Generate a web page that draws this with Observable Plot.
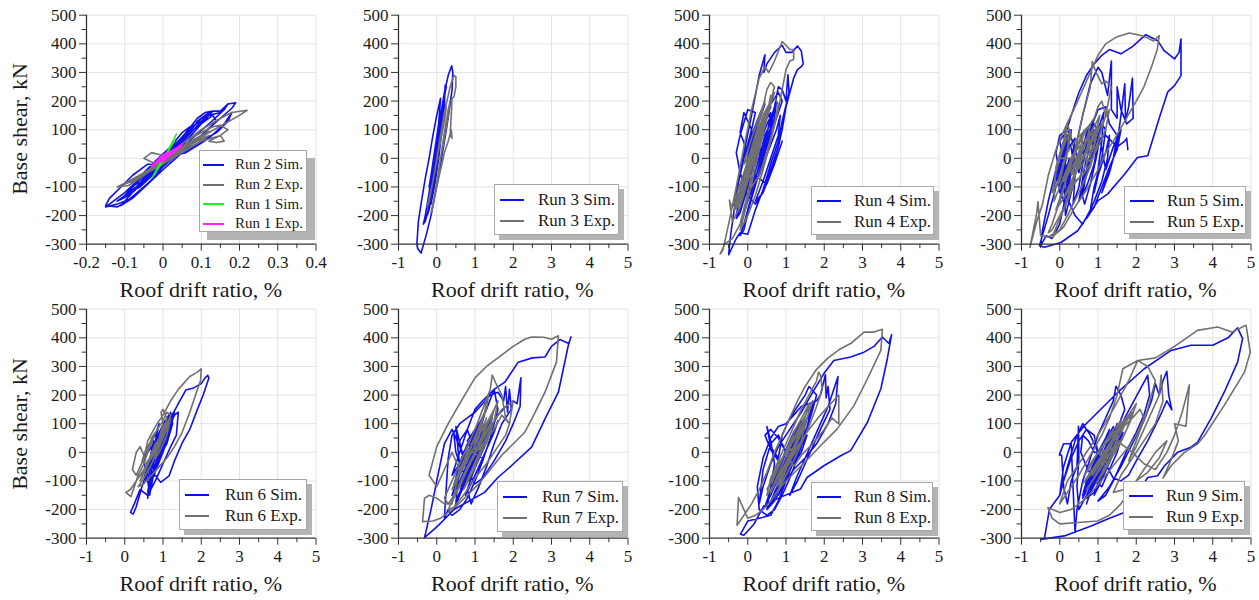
<!DOCTYPE html>
<html><head><meta charset="utf-8">
<script src="https://cdn.jsdelivr.net/npm/d3@7"></script>
<script src="https://cdn.jsdelivr.net/npm/@observablehq/plot@0.6"></script>
<style>
body{margin:0;background:#fff;}
#wrap{position:relative;width:1259px;height:600px;overflow:hidden;color:#1a1a1a;}
.panel{position:absolute;width:330px;height:300px;}
.panel svg{overflow:visible;background:transparent;max-width:none;}
.xtitle{position:absolute;width:260px;text-align:center;font-size:22px;line-height:22px;white-space:nowrap;}
.ytitle{position:absolute;width:200px;text-align:center;font-size:22px;line-height:22px;white-space:nowrap;transform:rotate(-90deg);}
.legend{position:absolute;background:#fff;border:1px solid #a8a8a8;box-sizing:border-box;}
.legrow{display:flex;align-items:center;white-space:nowrap;color:#1a1a1a;}
.sample{height:2px;flex:none;}
</style>
</head><body>
<div id="wrap"></div>
<script>
// ---- data: [drift %, base shear kN] pairs ----
const run2Sim = [0,0,0.02,25,0.04,50,0.02,30,-0.02,-20,-0.05,-60,-0.03,-50,0.01,0,0.05,60,0.08,100,0.1,130,0.08,115,0.04,60,0,5,-0.04,-50,-0.08,-100,-0.1,-130,-0.08,-120,-0.04,-70,0,-20,0.04,40,0.08,100,0.11,145,0.13,165,0.15,165,0.17,190,0.19,194,0.18,175,0.15,140,0.1,80,0.05,20,0,-40,-0.05,-100,-0.09,-145,-0.12,-160,-0.15,-170,-0.14,-160,-0.1,-120,-0.06,-70,-0.02,-20,0.02,30,0.06,90,0.09,140,0.11,160,0.13,165,0.12,150,0.08,100,0.03,40,-0.02,-30,-0.06,-90,-0.1,-150,-0.11,-165,-0.08,-140,-0.04,-90,0,-30,0.04,30,0.08,90,0.12,150,0.15,160,0.17,190,0.16,170,0.12,120,0.06,50,0,-20,-0.05,-80,-0.09,-130,-0.12,-150,-0.1,-130,-0.05,-60,0,0,0.02,40,0.05,70,0.07,110,0.05,90,0.02,40,-0.02,-10,-0.05,-50,-0.07,-90,-0.05,-80,-0.02,-40,0.01,10,0.04,50,0.07,90,0.09,130,0.12,160,0.1,140,0.06,80,0.02,20,-0.03,-40,-0.07,-100,-0.09,-120,-0.06,-100,-0.02,-50,0.03,10,0.06,60,0.1,120,0.13,150,0.14,130,0.1,80,0.05,30,0,-30,-0.04,-20,-0.08,-60,-0.11,-100,-0.14,-140,-0.15,-165,-0.12,-170,-0.08,-140,-0.04,-90,0,-40,0.04,10,0.1,60,0.14,90,0.17,130,0.18,160,0.16,120,0.12,70,0.06,20,0,0];
const run2Exp = [0,0,0.03,30,0.06,60,0.1,90,0.13,110,0.15,115,0.17,100,0.15,80,0.12,60,0.14,55,0.16,60,0.15,80,0.1,60,0.05,20,0,-20,-0.05,-50,-0.09,-80,-0.12,-100,-0.09,-95,-0.05,-60,-0.02,-20,-0.05,0,-0.03,20,0,10,0.04,40,0.1,100,0.15,140,0.18,160,0.22,168,0.2,150,0.16,120,0.12,90,0.06,40,0,-10,-0.05,-50,-0.08,-80,-0.06,-70,-0.02,-30,0.02,10,0.06,50,0.1,80,0.12,95,0.09,70,0.04,30,0,0,0.03,20,0.07,50,0.11,80,0.08,60,0.04,20,0,-20,-0.04,-50,-0.07,-70,-0.04,-50,0,-10,0.05,30,0.09,60,0.12,80,0.1,60,0.06,30,0.02,0,-0.02,-30,-0.06,-60,-0.1,-90,-0.07,-75,-0.03,-40,0,0];
const run1Sim = [0,0,0.01,20,0.02,45,0.03,70,0.035,85,0.03,70,0.02,40,0.01,15,0,-10,-0.01,-30,-0.02,-50,-0.03,-70,-0.025,-60,-0.015,-35,-0.005,-10,0.005,10,0.02,40,0.03,60,0.025,50,0.01,20,0,0];
const run1Exp = [0,0,0.01,10,0.02,20,0.03,30,0.04,40,0.05,50,0.045,40,0.035,30,0.02,15,0.01,10,0,-5,-0.01,-10,-0.02,-20,-0.03,-30,-0.025,-20,-0.015,-10,0,5,0.01,15,0.025,25,0.04,35,0.03,22,0.015,8,0,-10,-0.02,-15,-0.01,0,0,10,0.01,20,0,0];
const run3Sim = [0,0,0.05,40,0.1,90,0.05,60,-0.05,-20,-0.1,-70,-0.05,-50,0.05,30,0.12,100,0.18,170,0.2,210,0.15,170,0.05,80,-0.05,-20,-0.15,-110,-0.2,-160,-0.25,-200,-0.2,-180,-0.1,-100,0,-10,0.1,90,0.2,190,0.22,255,0.25,250,0.22,230,0.1,120,0,20,-0.1,-80,-0.2,-170,-0.3,-220,-0.35,-230,-0.3,-200,-0.2,-120,-0.1,-20,0,60,0.1,150,0.2,230,0.3,290,0.39,323,0.42,300,0.4,240,0.33,170,0.25,100,0.15,20,0.05,-60,-0.05,-130,-0.15,-200,-0.28,-270,-0.41,-331,-0.5,-315,-0.52,-300,-0.48,-220,-0.4,-150,-0.3,-70,-0.2,0,-0.1,80,0,150,0.1,210,0.05,120,-0.05,30,-0.15,-60,-0.2,-100,-0.1,-60,0,10,0.1,90,0,0,-0.1,-40,0,40,0.1,120,0.15,180,0.1,140,0,50,-0.1,-50,-0.2,-140,-0.25,-170,-0.15,-120,-0.05,-30,0.05,60,0.15,150,0.2,200,0.22,180,0.12,80,0.02,-20,-0.08,-110,-0.15,-160,-0.05,-90,0.05,0,0.1,60,0,0];
const run3Exp = [0,0,0.1,60,0.2,130,0.25,180,0.2,150,0.1,70,0,-10,-0.1,-80,-0.2,-140,-0.25,-170,-0.2,-150,-0.1,-80,0,0,0.1,80,0.2,160,0.3,220,0.35,250,0.4,270,0.45,290,0.5,285,0.5,250,0.45,215,0.4,210,0.38,150,0.35,80,0.4,70,0.38,100,0.3,60,0.2,20,0.1,-40,0,-100,-0.1,-160,-0.15,-190,-0.1,-170,0,-90,0.1,0,0.2,90,0.3,170,0.35,200,0.3,150,0.2,70,0.1,0,0,0];
const run4Sim = [0,0,0.2,60,0.4,140,0.3,100,0.1,20,-0.1,-60,-0.2,-110,-0.1,-90,0.1,0,0.3,80,0.5,150,0.6,180,0.5,150,0.3,70,0.1,-20,-0.1,-110,-0.2,-170,-0.3,-210,-0.2,-190,0,-100,0.2,10,0.4,110,0.6,190,0.8,230,0.9,200,0.7,120,0.5,40,0.3,-50,0.1,-140,0,-190,-0.1,-250,-0.2,-270,-0.1,-230,0.1,-130,0.3,-20,0.5,90,0.7,180,0.8,250,0.9,240,1.0,200,1.05,292,1.08,230,0.9,130,0.8,60,0.6,-20,0.4,-110,0.2,-180,0,-265,-0.2,-260,-0.3,-280,-0.5,-337,-0.45,-270,-0.3,-130,-0.1,20,0.1,150,0.3,290,0.45,362,0.42,300,0.5,330,0.7,370,0.9,395,1.0,370,1.15,370,1.3,392,1.4,375,1.45,330,1.4,320,1.3,310,1.2,280,1.1,230,1.0,180,0.9,100,0.8,40,0.6,-40,0.4,-120,0.2,-160,0,-130,-0.2,-50,-0.3,20,-0.2,80,0,170,0.2,160,0.1,100,-0.1,0,-0.3,-120,-0.2,-150,0,-60,0.2,50,0.4,120,0.6,160,0.5,80,0.3,0,0.1,-80,0,-20,0.1,30,0,0,0.2,40,0.4,100,0.5,160,0.35,120,0.15,30,-0.05,-60,-0.2,-140,-0.1,-120,0.1,-40,0.3,40,0.5,120,0.7,170,0.6,110,0.4,20,0.2,-70,0,-150,-0.1,-190,0.05,-120,0.25,-20,0.45,80,0.65,140,0.75,200,0.7,140,0.5,60,0.3,-30,0.1,-100,0.3,-60,0.55,30,0.75,100,0.85,150,0.8,80,0.6,0,0.4,-80,0.2,-150,0.4,-120,0.6,-50,0.8,20,0.9,60,0.7,-20,0.5,-90,0.2,-60,0,20,-0.2,90,-0.1,160,0.1,100,0,0,0.1,60,0.3,130,0.45,190,0.3,150,0.1,80,-0.1,0,-0.25,-80,-0.35,-160,-0.25,-140,-0.1,-60,0.05,20,0.2,90,0.35,160,0.25,100,0.05,10,-0.15,-90,-0.3,-200,-0.15,-160,0.05,-70,0.25,10,0.45,60,0.6,100,0.45,30,0.25,-50,0.05,-130,0,0];
const run4Exp = [0,0,0.2,50,0.4,120,0.3,90,0.1,10,-0.1,-80,-0.3,-150,-0.2,-130,0,-40,0.2,60,0.4,150,0.6,200,0.7,230,0.6,190,0.4,110,0.2,20,0,-80,-0.2,-170,-0.4,-220,-0.48,-146,-0.45,-160,-0.3,-170,-0.2,-140,0,-40,0.2,80,0.4,180,0.5,240,0.6,265,0.7,250,0.6,200,0.4,100,0.2,0,0,-120,-0.2,-230,-0.4,-280,-0.6,-300,-0.72,-334,-0.65,-320,-0.5,-230,-0.3,-100,-0.1,40,0.1,170,0.3,280,0.45,320,0.55,300,0.7,340,0.9,408,1.0,395,1.1,380,1.2,380,1.2,345,1.1,340,1.0,310,0.9,240,0.8,170,0.6,60,0.4,-40,0.2,-130,0,-200,-0.2,-250,-0.1,-200,0.1,-90,0.3,30,0.5,140,0.65,220,0.8,190,0.7,120,0.5,20,0.3,-60,0.1,-100,0,0,0.15,40,0.35,110,0.5,170,0.4,120,0.2,40,0,-40,-0.2,-120,-0.35,-180,-0.25,-170,-0.05,-90,0.15,0,0.35,90,0.55,180,0.6,220,0.5,150,0.3,60,0.1,-30,-0.1,-110,-0.2,-150,0,-60,0.2,30,0.4,100,0.3,60,0.1,0,0,0,-0.1,-20,0.1,70,0.3,150,0.45,200,0.35,150,0.15,60,-0.05,-30,-0.25,-110,-0.4,-170,-0.3,-150,-0.1,-70,0.1,20,0.3,110,0.2,60,0,-20,0,0];
const run5Sim = [0,0,0.2,60,0.3,90,0.1,20,-0.1,-60,-0.15,-100,0,-40,0.2,50,0.1,80,0,60,0.2,-80,0.1,-150,0.3,-20,0.4,70,0.2,30,0.1,-60,0.15,-200,0.3,-120,0.5,0,0.7,80,0.9,120,1.0,100,0.8,0,0.6,-80,0.5,-150,0.7,-60,0.9,30,1.1,120,1.2,100,1.1,0,0.9,-100,0.8,-180,0.6,-230,0.4,-200,0.2,-140,0,-60,-0.1,20,0,80,0.2,100,0.4,40,0.5,-50,0.6,0,0.8,100,1.0,170,1.2,180,1.3,120,1.5,80,1.4,0,1.2,-80,1.1,-120,1.3,-50,1.5,50,1.6,150,1.7,260,1.72,130,1.8,180,1.9,280,1.92,140,1.75,120,1.6,170,1.5,250,1.5,140,1.35,170,1.35,340,1.25,220,1.1,300,1.0,318,0.8,260,0.6,150,0.4,30,0.2,-100,0,-230,-0.2,-280,-0.35,-270,-0.5,-305,-0.45,-250,-0.3,-150,-0.1,-40,0.1,60,0.3,150,0.5,230,0.7,290,0.9,330,1.1,360,1.3,380,1.6,365,1.9,390,2.25,432,2.56,411,2.73,376,3.0,347,3.12,370,3.17,417,3.17,289,3.0,254,2.82,231,2.6,140,2.3,9,2.03,3,1.7,-55,1.25,-125,1.0,-148,0.47,-253,0.03,-294,-0.4,-311,-0.53,-305,-0.3,-200,-0.1,-100,0.2,-20,0.3,-20,0.1,-100,0,-150,0.1,-60,0.2,40,0.3,100,0.2,80,0.05,-20,-0.05,-80,0.05,0,0.15,60,0.3,40,0.4,-60,0.35,-160,0.5,-100,0.6,-20,0.75,60,0.9,100,1.0,60,0.9,-20,0.75,-80,0.6,-130,0.7,-40,0.85,40,1.0,100,1.15,160,1.1,60,1.0,-40,0.9,-120,1.0,-60,1.2,20,1.3,80,1.25,0,1.1,-80,0.9,-150,0.7,-210,0.9,-170,1.1,-100,1.3,-30,1.5,30,1.6,100,1.4,40,1.2,-40,1.05,70,0.95,0,0.8,-90,0.65,-160,0.55,-110,0.65,-30,0.8,50,0.85,130,0.7,90,0.6,30,0.45,-40,0.35,20,0.25,-90,0.15,-170,0.05,-130,0.2,-60,0.25,0,0.1,-80,0,-120,-0.05,-60,0.05,10,0.15,90,0.2,60,0.1,-30,0,-100,0.3,-40,0.6,20,0.9,60,1.2,80,1.5,40,1.7,60,1.75,70,1.78,30];
const run5Exp = [0,0,0.1,60,0.2,100,0.1,50,-0.1,-50,-0.2,-120,0,-80,0.2,30,0.3,80,0.2,120,0.1,60,-0.1,-30,-0.15,-150,0,-100,0.3,0,0.5,50,0.7,100,0.9,140,1.0,180,1.1,200,1.2,150,1.0,60,0.8,-20,0.6,-60,0.4,-80,0.2,-150,0,-200,-0.2,-250,-0.3,-260,-0.2,-230,0,-150,0.2,-60,0.4,30,0.6,150,0.8,250,0.85,338,0.95,300,1.1,260,1.2,270,1.35,250,1.2,150,1.0,60,0.8,-30,0.5,-120,0.2,-200,0,-250,-0.3,-275,-0.5,-270,-0.57,-151,-0.6,-190,-0.78,-311,-0.6,-220,-0.45,-160,-0.3,-60,-0.1,30,0.15,110,0.4,180,0.6,240,0.8,300,1.0,360,1.2,400,1.5,425,1.82,438,2.1,430,2.3,420,2.45,410,2.6,429,2.55,380,2.4,320,2.2,250,2.0,200,1.7,130,1.4,60,1.2,20,1.0,-40,0.7,-110,0.4,-170,0.1,-240,-0.2,-275,0.1,-180,0.4,-60,0.6,0,0.8,60,1.0,120,0.9,50,0.6,-20,0.4,-50,0.6,30,0.8,90,0.7,30,0.5,-30,0.3,-60,0.5,0,0,0,0.1,40,0.25,90,0.2,30,0,-60,-0.1,-100,0.05,-40,0.2,20,0.4,60,0.6,90,0.8,120,0.7,60,0.5,0,0.3,-60,0.4,-20,0.6,40,0.8,80,1.0,110,0.9,40,0.7,-20,0.5,-70,0.3,-100,0.1,-140,0.3,-80,0.5,-20,0.7,30,0.9,80,1.1,120,1.3,170,1.2,100,1.0,40,0.8,-10,0.6,0,0.45,-40,0.3,-90,0.15,-130,0,-160,-0.1,-180,0.05,-120,0.2,-60,0.35,0,0.5,60,0.65,100,0.55,40,0.4,-10,0.25,-50,0.1,-80,0.25,-30,0.45,30,0.7,70,0.9,110,1.05,150,0.95,90,0.75,30,0.6,0];
const run6Sim = [0.6,0,0.8,40,1.0,80,1.1,120,1.0,60,0.8,0,0.6,-60,0.55,-100,0.65,-30,0.75,40,0.7,-80,0.6,-140,0.7,-60,0.9,20,1.1,90,1.2,140,1.25,100,1.1,30,0.9,-20,0.7,-60,0.6,-160,0.65,-120,0.8,-40,1.0,40,1.2,100,1.3,130,1.4,140,1.35,60,1.2,20,1.0,-40,0.8,-100,0.6,-150,0.4,-130,0.25,-180,0.15,-210,0.22,-216,0.3,-190,0.45,-120,0.6,-60,0.8,0,1.0,60,1.2,120,1.4,170,1.6,218,1.8,225,2.0,240,2.1,260,2.17,269,2.2,260,2.05,200,1.9,150,1.7,80,1.51,35,1.3,-30,1.16,-82,0.94,-105,0.8,-80,0.68,-93,0.6,-80,0.5,-40,0.6,20,0.8,60,0.9,100,0.8,40,0.7,0,0.7,20,0.9,60,1.05,110,0.9,70,0.75,10,0.6,-50,0.5,-90,0.65,-40,0.8,20,1.0,80,1.15,130,1.0,90,0.85,30,0.7,-30,0.6,-100,0.65,-150,0.75,-80,0.9,-10,1.05,50,1.2,110,1.3,140,1.15,60,1.0,0,0.85,-50,0.7,-100,0.85,-40,1.0,20,1.1,60,1.2,90,1.1,40,0.9,-20,0.7,0];
const run6Exp = [0.7,0,0.9,50,1.0,100,0.95,140,1.0,150,1.1,120,1.0,60,0.8,0,0.6,-40,0.5,-60,0.4,-80,0.3,-100,0.15,-130,0.03,-140,0.16,-155,0.25,-120,0.35,-80,0.5,-40,0.6,0,0.7,50,0.8,70,0.7,30,0.5,-10,0.4,20,0.3,0,0.2,-60,0.3,-80,0.5,-20,0.6,40,0.8,90,1.0,130,1.2,180,1.4,220,1.7,265,1.9,280,2.0,292,1.98,250,1.85,200,1.7,140,1.5,70,1.3,20,1.1,-20,0.9,-50,0.7,-80,0.5,-110,0.35,-120,0.5,-90,0.7,-40,0.9,20,1.1,80,1.2,120,1.1,60,0.9,0,0.8,-20,0.9,30,1.0,60,0.9,40,0.75,0,0.55,-40,0.45,-30,0.55,10,0.7,40,0.85,80,1.0,110,1.1,140,1.2,130,1.05,80,0.9,40,0.7,-10,0.5,-60,0.4,-100,0.55,-60,0.75,0,0.9,50,1.05,100,0.95,60,0.8,10,0.65,-20,0.8,30,1.0,60];
const run7Sim = [1.0,0,1.2,60,1.3,100,1.1,50,0.9,-20,0.7,-80,0.6,-150,0.8,-60,1.0,20,1.2,80,1.4,120,1.3,60,1.1,0,0.9,-60,0.7,-120,0.5,-180,0.55,-100,0.7,-20,0.5,90,0.6,-50,0.8,20,1.0,70,1.3,150,1.5,220,1.6,150,1.4,50,1.2,-30,1.0,-100,0.8,-160,0.6,-200,0.4,-220,0.3,-200,0.2,-230,0.25,-120,0.3,-20,0.4,60,0.6,100,0.8,120,1.0,140,1.2,170,1.4,200,1.6,210,1.75,180,1.8,230,1.85,140,1.9,220,1.95,150,1.7,100,1.5,30,1.3,-50,1.1,-120,0.9,-180,0.8,-130,1.0,-50,1.2,20,1.4,80,1.6,130,1.8,160,2.0,180,2.1,170,2.2,260,2.18,160,2.0,100,1.8,40,1.5,-30,1.2,-90,1.0,-110,0.8,-60,0.6,20,0.4,80,0.2,30,0,-100,-0.15,-200,-0.32,-298,0.03,-257,0.46,-199,1.25,-140,1.6,-88,1.95,-47,2.48,18,2.83,117,3.18,210,3.44,374,3.51,403,3.45,380,3.22,394,3.0,370,2.83,333,2.5,330,2.13,315,1.78,245,1.5,220,1.2,180,1.0,150,0.8,80,0.6,0,0.4,-80,0.6,-40,0.8,30,1.0,0,0.8,40,1.0,80,1.2,110,1.0,60,0.8,0,0.6,-60,0.45,-120,0.55,-60,0.7,0,0.9,50,1.1,100,1.25,130,1.1,70,0.9,10,0.7,-50,0.5,-110,0.4,-150,0.6,-100,0.8,-40,1.0,20,1.2,70,1.35,100,1.2,40,1.0,-20,0.8,-80,0.6,-140,0.5,-170,0.7,-120,0.9,-60,1.1,0,1.3,60,1.4,90,1.25,20,1.05,-40,0.85,-100,0.65,-60,0.5,0,0.45,60,0.6,40,0.8,80,1.0,0,0.85,-60,0.7,-110,0.55,-160,0.45,-200,0.6,-150,0.75,-90,0.95,-20,1.15,40,1.3,80,1.45,120,1.3,50,1.1,-20,0.9,-90,0.75,-150,0.9,-110,1.1,-50,1.3,10,1.5,70,1.6,110,1.4,40,1.2,-20,1.0,0];
const run7Exp = [1.0,0,1.2,50,1.4,100,1.5,150,1.3,100,1.1,30,0.9,-30,0.7,-90,0.5,-140,0.3,-180,0.2,-160,0.4,-100,0.6,-40,0.8,20,1.0,80,1.2,150,1.4,220,1.45,270,1.55,240,1.7,200,1.8,120,1.9,100,1.8,60,1.6,20,1.3,-40,1.0,-90,0.7,-150,0.4,-200,0.1,-230,-0.1,-240,-0.37,-242,-0.32,-161,-0.2,-150,0,-160,0.2,-180,0.4,-180,0.5,-120,0.6,-60,0.4,0,0.2,-60,0,-120,-0.2,-80,0,20,0.3,100,0.6,170,1.0,260,1.3,300,1.6,330,2.0,370,2.3,395,2.48,403,2.8,402,3.0,395,3.18,407,3.13,315,2.83,210,2.5,120,2.3,70,1.95,23,1.7,-10,1.4,-60,1.1,-110,0.8,-150,0.5,-190,0.3,-200,0.5,-140,0.8,-60,1.1,20,1.4,90,1.7,150,2.0,180,1.9,100,1.7,130,1.5,80,1.2,30,1.0,0,1.0,40,1.2,80,1.3,120,1.15,70,0.95,10,0.75,-40,0.55,-90,0.4,-130,0.55,-80,0.75,-20,0.95,40,1.15,100,1.3,150,1.35,200,1.25,140,1.05,70,0.85,0,0.65,-60,0.45,-110,0.6,-60,0.8,0,1.0,50,1.2,100,1.1,50,0.9,0,1.0,0,0.8,-50,0.6,-110,0.45,-160,0.6,-120,0.8,-60,1.0,0,1.2,60,1.4,120,1.6,180,1.5,110,1.3,40,1.1,-20,0.9,-80,0.7,-130,0.85,-80,1.05,-20,1.25,40,1.45,90,1.3,30,1.0,0];
const run8Sim = [1.0,0,1.2,50,1.4,90,1.2,40,1.0,-20,0.8,-80,0.6,-130,0.8,-60,1.0,10,1.2,70,1.4,110,1.5,60,1.3,0,1.1,-60,0.9,-120,0.7,-170,0.5,-200,0.6,-120,0.7,-40,0.6,40,0.5,90,0.6,20,0.8,-20,0.9,60,1.1,120,1.3,160,1.5,200,1.6,230,1.8,200,1.7,150,1.5,60,1.3,-20,1.1,-90,0.9,-150,0.7,-200,0.5,-220,0.3,-200,0.25,-120,0.4,-20,0.6,50,0.8,90,1.0,100,1.2,130,1.4,160,1.6,170,1.8,180,1.9,200,2.03,271,2.05,190,2.1,230,2.15,150,1.9,80,1.7,20,1.5,-40,1.3,-100,1.1,-150,1.3,-80,1.6,10,1.9,100,2.1,160,2.2,200,2.36,265,2.3,170,2.1,100,1.8,30,1.5,-20,1.2,-60,1.0,-100,0.8,-170,0.6,-220,0.3,-230,0,-240,-0.19,-286,-0.1,-290,0.16,-251,0.42,-187,0.8,-160,1.38,-128,1.55,-88,1.99,-47,2.43,-12,2.69,6,3.13,105,3.48,222,3.65,327,3.76,411,3.69,380,3.52,403,3.3,370,3.04,350,2.69,333,2.25,321,1.99,275,1.7,210,1.4,140,1.1,80,0.8,20,0.6,-40,0.4,-120,0.3,-180,0.4,-60,0.6,30,0.8,60,1.0,0,1.1,40,1.3,80,1.45,110,1.3,60,1.1,0,0.9,-60,0.7,-120,0.85,-70,1.05,-10,1.25,50,1.45,90,1.55,120,1.4,50,1.2,-10,1.0,-70,0.8,-130,0.65,-170,0.8,-110,1.0,-40,1.2,20,1.4,60,1.3,10,1.1,-40,0.9,-100,0.7,-150,0.55,-190,0.7,-140,0.9,-80,1.1,-20,1.3,30,1.5,70,1.6,110,1.45,40,1.25,-20,1.05,-80,0.85,-40,0.6,10,0.45,60,0.6,80,0.8,50,1.0,0,0.85,-50,0.7,-100,0.55,-150,0.45,-190,0.6,-150,0.8,-90,1.0,-30,1.2,30,1.4,80,1.6,130,1.7,170,1.55,90,1.35,20,1.15,-40,0.95,-100,0.8,-150,0.95,-110,1.15,-50,1.35,10,1.55,60,1.4,0,1.2,-40,1.0,0];
const run8Exp = [1.0,0,1.2,40,1.4,80,1.3,40,1.1,-10,0.9,-60,0.7,-110,0.5,-150,0.6,-90,0.8,-30,1.0,30,1.2,90,1.4,150,1.6,200,1.8,250,1.85,280,1.9,270,1.95,220,1.8,160,1.6,90,1.4,30,1.2,-30,1.0,-80,0.8,-130,0.6,-170,0.4,-200,0.2,-220,0,-230,-0.24,-158,-0.28,-255,-0.1,-220,0.1,-180,0.3,-130,0.5,-70,0.7,0,0.9,60,1.1,120,1.3,180,1.5,230,1.8,290,2.1,330,2.4,360,2.69,380,3.04,420,3.3,420,3.52,430,3.48,356,3.13,257,2.78,164,2.34,82,1.9,23,1.6,-20,1.3,-60,1.0,-100,0.8,-130,1.0,-60,1.3,20,1.6,80,1.9,130,2.1,160,2.38,200,2.38,99,2.2,120,2.0,80,1.7,30,1.4,-10,1.2,-50,1.0,0,1.1,30,1.3,70,1.5,110,1.35,60,1.15,0,0.95,-50,0.75,-100,0.6,-140,0.75,-90,0.95,-30,1.15,30,1.35,90,1.55,140,1.7,180,1.55,120,1.35,50,1.15,-10,0.95,-70,0.75,-120,0.9,-70,1.1,-10,1.3,50,1.5,100,1.4,40,1.2,-10,1.0,0,0.8,-40,0.65,-90,0.5,-130,0.65,-100,0.85,-40,1.05,20,1.25,80,1.45,130,1.6,170,1.45,100,1.25,30,1.05,-30,0.85,-80,1.0,-40,1.2,20,1.4,70,1.25,20,1.0,0];
const run9Sim = [1.0,0,1.2,50,1.3,80,1.1,20,0.9,-40,0.7,-100,0.6,-150,0.8,-80,1.0,-20,1.2,40,1.4,90,1.3,30,1.1,-30,0.9,-90,0.7,-150,0.5,-200,0.45,-120,0.5,-20,0.49,91,0.45,-50,0.3,-100,0.2,-180,0.1,-120,0.05,-10,-0.01,-9,0.1,30,0.3,30,0.35,-130,0.4,-280,0.45,-200,0.6,-100,0.8,-20,1.0,60,1.2,120,1.4,180,1.47,231,1.6,200,1.7,150,1.5,80,1.3,20,1.1,-50,0.9,-110,0.7,-160,0.9,-140,1.1,-80,1.3,-10,1.5,60,1.7,120,1.9,170,2.1,220,2.3,269,2.35,200,2.2,130,2.0,70,1.8,20,1.6,-40,1.4,-100,1.2,-150,1.0,-170,1.3,-120,1.6,-50,1.9,30,2.2,110,2.4,180,2.5,240,2.6,200,2.7,250,2.8,283,2.85,200,2.93,148,2.8,180,2.6,120,2.3,40,2.0,-30,1.8,-80,1.6,-100,1.4,-90,1.2,-40,1.0,0,0.8,60,0.6,100,0.4,40,0.2,-50,0,-150,-0.27,-199,-0.4,-301,-0.49,-304,0.12,-292,0.82,-257,1.3,-230,1.69,-210,2.0,-150,2.3,-88,2.56,-82,2.74,-47,3.08,0,3.43,18,3.6,35,3.95,117,4.3,210,4.65,315,4.78,397,4.65,435,4.4,400,4.0,374,3.43,374,2.91,356,2.21,292,1.52,210,0.64,93,0.3,35,0.1,-50,0,-150,0.1,-100,0.3,-20,0.5,40,0.7,80,0.9,60,1.0,0,1.2,40,1.4,70,1.2,20,1.0,-40,0.8,-90,0.65,-140,0.8,-100,1.0,-40,1.2,20,1.4,60,1.55,90,1.4,30,1.2,-30,1.0,-90,0.8,-140,0.7,-180,0.85,-120,1.05,-60,1.25,0,1.45,50,1.6,80,1.45,10,1.25,-50,1.05,-110,0.9,-150,1.05,-100,1.25,-40,1.45,20,1.65,70,1.5,0,1.3,-60,1.1,-120,0.9,-100,0.7,-50,0.55,0,0.6,60,0.75,40,0.9,0,1.0,0,0.85,-50,0.7,-100,0.6,-160,0.75,-120,0.95,-60,1.15,0,1.35,50,1.5,100,1.35,40,1.15,-20,0.95,-80,0.8,-130,0.95,-100,1.15,-40,1.35,20,1.55,70,1.7,110,1.5,30,1.3,-30,1.1,-80,1.0,0];
const run9Exp = [1.0,0,1.2,40,1.4,70,1.6,90,1.4,50,1.2,10,1.0,-30,0.8,-70,0.6,-110,0.8,-80,1.0,-30,1.3,30,1.6,80,1.9,120,2.1,150,2.2,120,2.0,60,1.8,20,1.5,-30,1.2,-80,0.9,-130,0.6,-170,0.3,-200,0,-210,-0.31,-193,-0.2,-230,0,-250,0.47,-245,0.99,-240,1.3,-220,1.6,-180,1.9,-120,2.2,-60,2.5,0,2.8,40,2.6,-20,2.3,-70,2.0,-100,1.7,-130,1.4,-140,1.6,-80,1.9,-20,2.2,40,2.5,100,2.7,180,2.65,270,2.6,200,2.4,140,2.2,80,2.0,20,1.8,-30,2.0,40,2.3,150,2.5,250,2.3,300,2.04,321,1.65,292,1.5,200,1.3,120,1.1,60,0.8,-10,0.5,-80,0.2,-140,0,-180,0.2,-100,0.6,-20,1.0,60,1.4,150,1.8,250,2.04,321,2.5,330,3.0,370,3.6,426,4.13,438,4.5,420,4.87,444,4.98,350,4.83,280,4.3,164,3.78,58,3.6,29,3.26,0,2.91,-47,2.7,-90,2.9,-30,3.1,40,3.0,100,3.3,91,3.39,236,3.2,140,3.0,60,2.8,0,2.5,-60,2.2,-40,1.9,0,1.6,30,1.3,10,1.0,0,1.2,30,1.4,60,1.6,100,1.8,130,1.65,80,1.45,30,1.25,-20,1.05,-60,0.85,-100,0.7,-130,0.9,-90,1.1,-40,1.3,10,1.5,60,1.7,100,1.9,140,1.75,80,1.55,30,1.35,-20,1.15,-70,0.95,-110,1.15,-60,1.35,-10,1.55,40,1.4,10,1.2,-20,1.0,0,0.8,-40,0.65,-80,0.8,-50,1.0,0,1.2,40,1.4,80,1.6,110,1.45,60,1.25,10,1.05,-40,0.85,-80,1.05,-30,1.25,20,1.45,60,1.65,100,1.85,140,2.0,170,1.85,110,1.65,50,1.45,0,1.25,-40,1.0,0];

// ---- ticks ----
const yTicks = [-300,-200,-100,0,100,200,300,400,500];
const yMinor = [-250,-150,-50,50,150,250,350,450];
const xTicksSmall = [-0.2,-0.1,0,0.1,0.2,0.3,0.4];
const xMinorSmall = [-0.15,-0.05,0.05,0.15,0.25,0.35];
const xTicksLarge = [-1,0,1,2,3,4,5];
const xMinorLarge = [-0.5,0.5,1.5,2.5,3.5,4.5];

// ---- series labels / colours ----
const BLUE = "#1010ee", GRAY = "#707070", GREEN = "#22ee22", MAGENTA = "#ff22ff";

const panels = [
  {series:[["Run 2 Sim.",run2Sim,BLUE],["Run 2 Exp.",run2Exp,GRAY],["Run 1 Sim.",run1Sim,GREEN],["Run 1 Exp.",run1Exp,MAGENTA]], small:true, leg:[199,150,108,82], shadow:8, lf:15, lrow:19.7, lpad:[4,3,21,11]},
  {series:[["Run 3 Sim.",run3Sim,BLUE],["Run 3 Exp.",run3Exp,GRAY]], leg:[494,184,125,51], shadow:5, lf:17, lrow:21.4, lpad:[4,5,24,14]},
  {series:[["Run 4 Sim.",run4Sim,BLUE],["Run 4 Exp.",run4Exp,GRAY]], leg:[811,186,123,49], shadow:5, lf:17, lrow:21, lpad:[3,5,24,13]},
  {series:[["Run 5 Sim.",run5Sim,BLUE],["Run 5 Exp.",run5Exp,GRAY]], leg:[1124,186,122,48], shadow:5, lf:17, lrow:21, lpad:[3,5,24,13]},
  {series:[["Run 6 Sim.",run6Sim,BLUE],["Run 6 Exp.",run6Exp,GRAY]], leg:[179,479,128,51], shadow:5, lf:17, lrow:21.4, lpad:[4,5,24,16]},
  {series:[["Run 7 Sim.",run7Sim,BLUE],["Run 7 Exp.",run7Exp,GRAY]], leg:[497,481,126,51], shadow:5, lf:17, lrow:21.4, lpad:[4,5,24,15]},
  {series:[["Run 8 Sim.",run8Sim,BLUE],["Run 8 Exp.",run8Exp,GRAY]], leg:[811,482,122,49], shadow:5, lf:17, lrow:21, lpad:[3,5,24,13]},
  {series:[["Run 9 Sim.",run9Sim,BLUE],["Run 9 Exp.",run9Exp,GRAY]], leg:[1123,481,122,49], shadow:5, lf:17, lrow:21, lpad:[3,5,24,13]}
];

// pick the first installed serif family (Times-like first)
function pickFont(cands){
  const ctx = document.createElement("canvas").getContext("2d");
  const s = "Roof drift ratio, % Base shear 0123456789";
  ctx.font = "20px monospace"; const w0 = ctx.measureText(s).width;
  for (const f of cands){
    ctx.font = `20px "${f}", monospace`;
    if (Math.abs(ctx.measureText(s).width - w0) > 0.5) return `"${f}", serif`;
  }
  return "serif";
}
const FONT = pickFont(["Liberation Serif","Times New Roman","Tinos","DejaVu Serif","Noto Serif"]);

function rows(flat){ const r=[]; for(let i=0;i<flat.length;i+=2) r.push({x:flat[i],y:flat[i+1]}); return r; }
const fmt = d => String(d);
const AX = "#333";

const wrap = document.getElementById("wrap");
wrap.style.fontFamily = FONT;
const PW = 229.5, PH = 229, ML = 86, MT = 14.7;

panels.forEach((p,i)=>{
  const col = i%4, row = Math.floor(i/4);
  const left = col*311.55, top = row*294.3;
  const xdom = p.small ? [-0.2,0.4] : [-1,5];
  const xt = p.small ? xTicksSmall : xTicksLarge;
  const xm = p.small ? xMinorSmall : xMinorLarge;
  const svg = Plot.plot({
    width:330, height:300,
    marginLeft:ML, marginTop:MT, marginRight:330-ML-PW, marginBottom:300-MT-PH,
    style:`background:transparent;overflow:visible;font-family:${FONT};font-size:17px;color:#1a1a1a;`,
    x:{domain:xdom, label:null},
    y:{domain:[-300,500], label:null},
    marks:[
      Plot.gridX(xt.slice(1), {stroke:"#e3e3e3", strokeOpacity:1}),
      Plot.gridY(yTicks.slice(1), {stroke:"#e3e3e3", strokeOpacity:1}),
      ...p.series.map(s => Plot.line(rows(s[1]), {x:"x", y:"y", stroke:s[2], strokeWidth:1.6})),
      Plot.axisX(xm, {tickSize:4.5, tickFormat:()=>"", stroke:AX, label:null}),
      Plot.axisX(xt, {tickSize:7, tickPadding:5, tickFormat:fmt, stroke:AX, fill:"#1a1a1a", fontSize:17, fontFamily:FONT, label:null}),
      Plot.axisY(yMinor, {tickSize:4.5, tickFormat:()=>"", stroke:AX, label:null}),
      Plot.axisY(yTicks, {tickSize:7, tickPadding:3, tickFormat:fmt, stroke:AX, fill:"#1a1a1a", fontSize:17, fontFamily:FONT, label:null}),
      Plot.ruleX([xdom[0]], {stroke:AX, strokeWidth:1.3}),
      Plot.ruleY([-300], {stroke:AX, strokeWidth:1.3})
    ]
  });
  const div = document.createElement("div");
  div.className = "panel"; div.style.left = left+"px"; div.style.top = top+"px";
  div.appendChild(svg); wrap.appendChild(div);

  const xt2 = document.createElement("div");
  xt2.className = "xtitle"; xt2.textContent = "Roof drift ratio, %";
  xt2.style.left = (left+ML+PW/2-130)+"px"; xt2.style.top = (top+278.6)+"px";
  wrap.appendChild(xt2);

  if (col===0){
    const yt = document.createElement("div");
    yt.className = "ytitle"; yt.textContent = "Base shear, kN";
    yt.style.left = (20-100)+"px"; yt.style.top = (top+MT+PH/2-11)+"px";
    wrap.appendChild(yt);
  }

  const [lx,ly,lw,lh] = p.leg;
  const lg = document.createElement("div");
  lg.className = "legend";
  Object.assign(lg.style,{left:lx+"px", top:ly+"px", width:lw+"px", height:lh+"px", boxShadow:`${p.shadow}px ${p.shadow}px 0 #b4b4b4`, paddingTop:p.lpad[0]+"px"});
  p.series.forEach(s=>{
    const r = document.createElement("div");
    r.className = "legrow";
    Object.assign(r.style,{height:p.lrow+"px", fontSize:p.lf+"px", paddingLeft:p.lpad[1]+"px"});
    const sm = document.createElement("div");
    sm.className = "sample";
    Object.assign(sm.style,{width:p.lpad[2]+"px", marginRight:p.lpad[3]+"px", background:s[2]});
    const t = document.createElement("span"); t.textContent = s[0];
    r.appendChild(sm); r.appendChild(t); lg.appendChild(r);
  });
  wrap.appendChild(lg);
});
</script>
</body></html>
